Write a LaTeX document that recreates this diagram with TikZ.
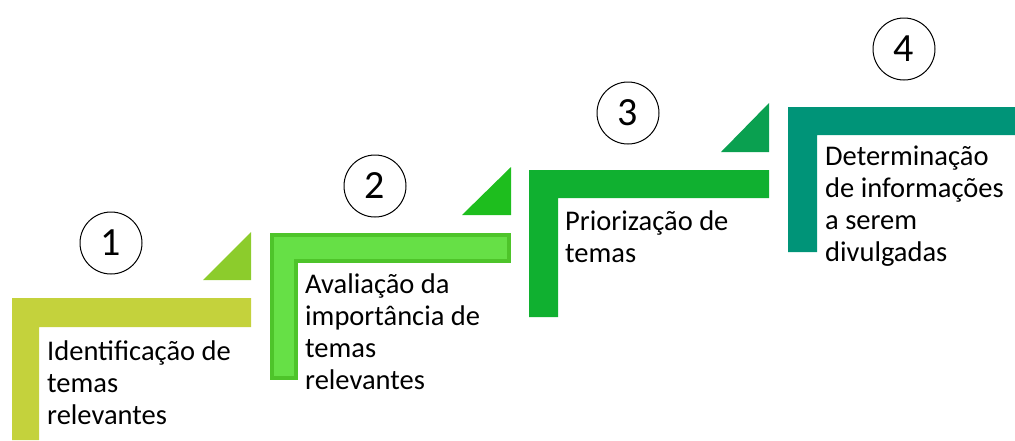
\documentclass[tikz,border=0pt]{standalone}
\usepackage{fontspec}
\setmainfont{Carlito}
\definecolor{cA}{HTML}{C4D23C}
\definecolor{tA}{HTML}{8CCC2C}
\definecolor{cB}{HTML}{66E046}
\definecolor{oB}{HTML}{4EC42A}
\definecolor{tB}{HTML}{1EBE1E}
\definecolor{cC}{HTML}{10B030}
\definecolor{tC}{HTML}{0AA050}
\definecolor{cD}{HTML}{009478}
\tikzset{
  lbl/.style={anchor=base west, inner sep=0pt, align=left, font=\fontsize{28.5}{32}\selectfont},
  num/.style={circle, draw=black, line width=1pt, minimum size=62pt, inner sep=0pt, font=\fontsize{40}{40}\selectfont},
}
\begin{document}
\begin{tikzpicture}[x=1pt,y=-1pt]
\useasboundingbox (0,0) rectangle (1015,440);
% step 1
\fill[cA] (12,298) -- (251,298) -- (251,327) -- (39,327) -- (39,440) -- (12,440) -- cycle;
\fill[tA] (203,280) -- (251,280) -- (251,232) -- cycle;
\node[num] (n1) at (111,243) {1};
\node[lbl] (t1) at (47,424) {Identificação de\\temas\\relevantes};
% step 2
\filldraw[fill=cB, draw=oB, line width=4pt] (272,235) -- (509,235) -- (509,261) -- (296,261) -- (296,378) -- (272,378) -- cycle;
\fill[tB] (462,215) -- (511,215) -- (511,167) -- cycle;
\node[num] (n2) at (375,186) {2};
\node[lbl] (t2) at (305,389) {Avaliação da\\importância de\\temas\\relevantes};
% step 3
\fill[cC] (529,170) -- (769,170) -- (769,198) -- (558,198) -- (558,317) -- (529,317) -- cycle;
\fill[tC] (721,152) -- (769,152) -- (769,103) -- cycle;
\node[num] (n3) at (628,113) {3};
\node[lbl] (t3) at (565,262) {Priorização de\\temas};
% step 4
\fill[cD] (788,107) -- (1015,107) -- (1015,135) -- (817,135) -- (817,252) -- (788,252) -- cycle;
\node[num] (n4) at (904,49) {4};
\node[lbl] (t4) at (825,261) {Determinação\\de informações\\a serem\\divulgadas};
\end{tikzpicture}
\end{document}
